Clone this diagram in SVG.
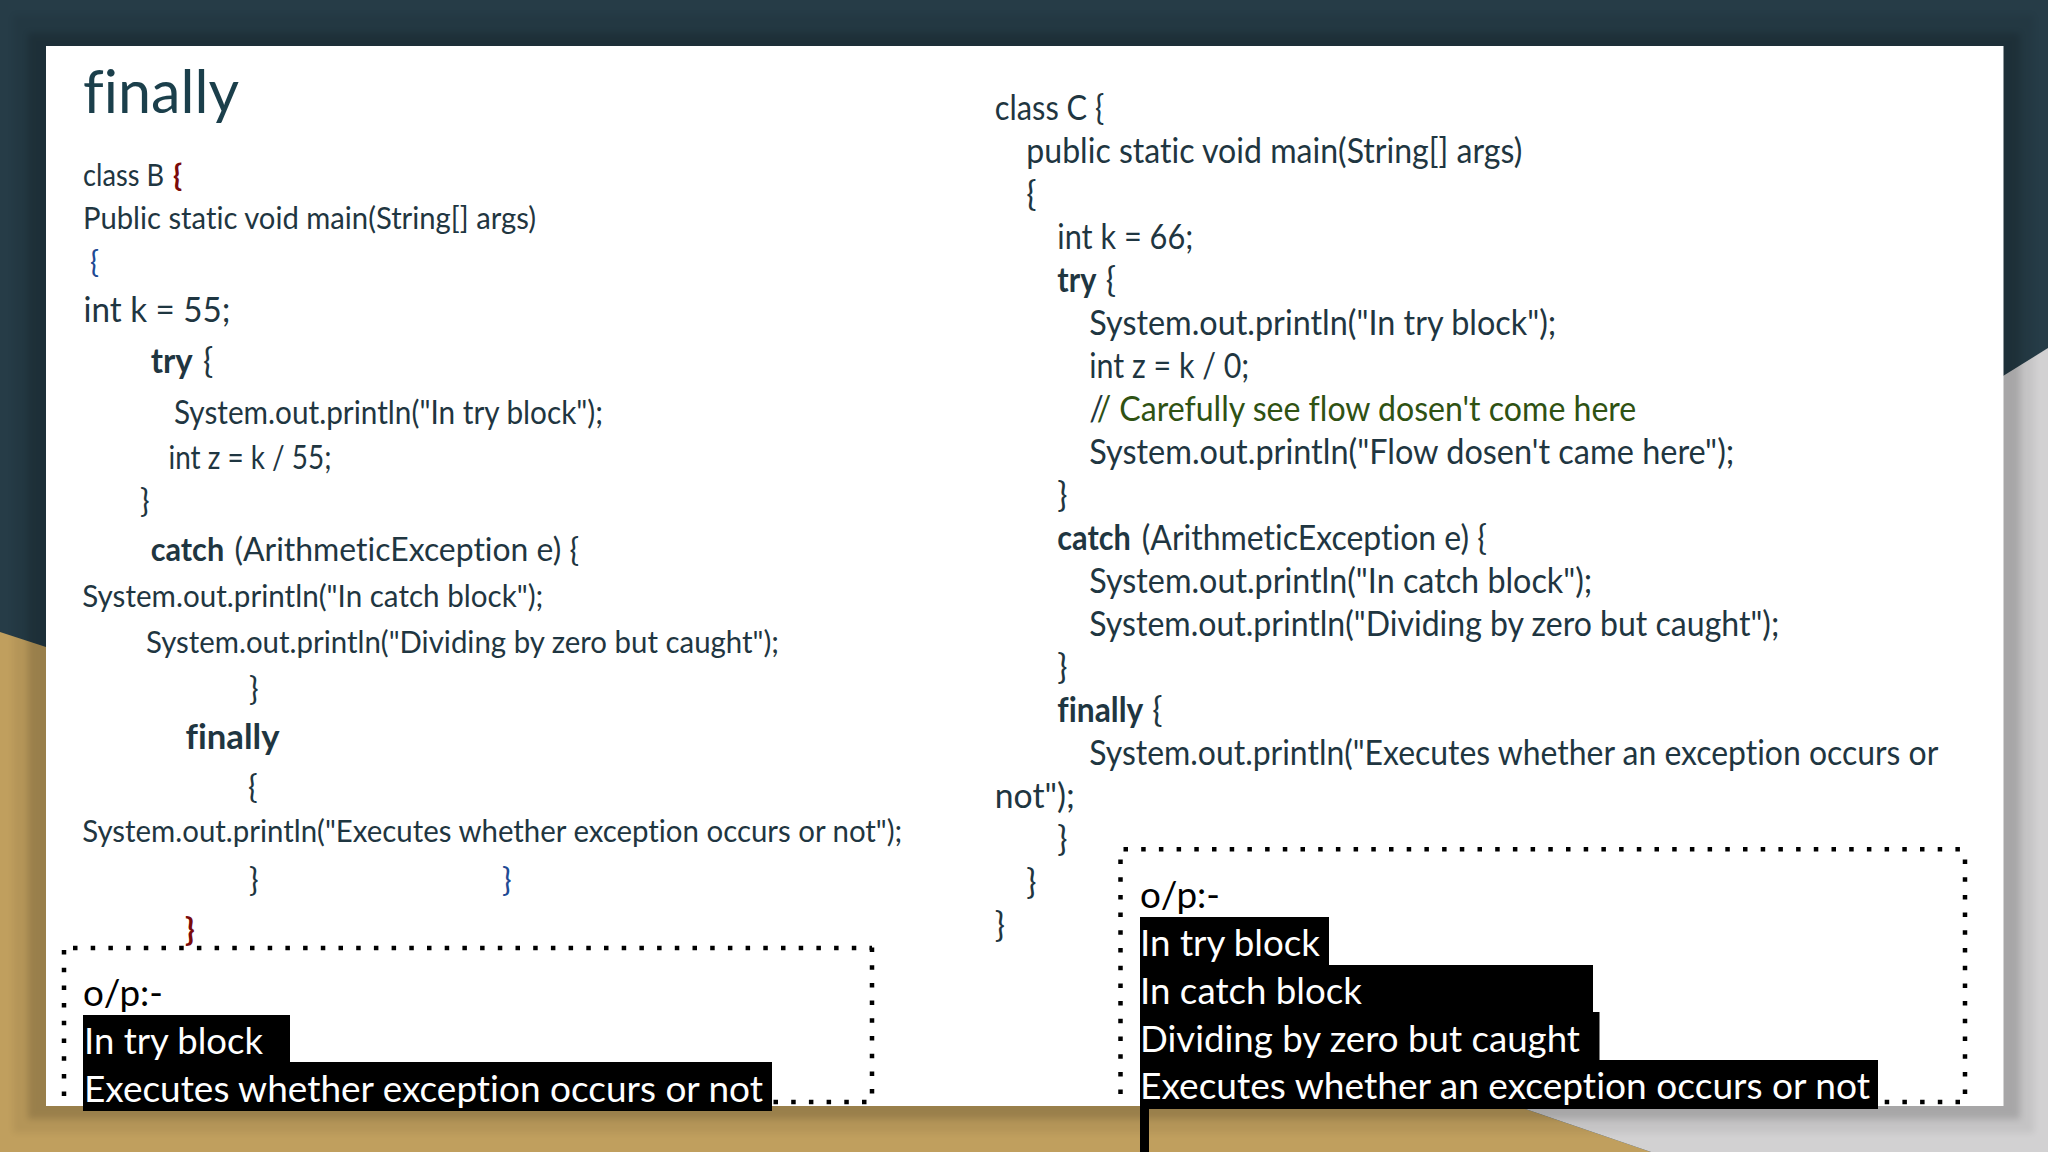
<svg xmlns="http://www.w3.org/2000/svg" width="2048" height="1152" viewBox="0 0 2048 1152">
<defs><filter id="soft" x="-5%" y="-5%" width="110%" height="110%"><feGaussianBlur stdDeviation="3"/></filter></defs>
<style>
text{font-family:"Lato","Carlito","Noto Sans",sans-serif;fill:#1f3641;white-space:pre;font-variant-ligatures:none}
.s{font-size:30px}.m{font-size:32px}.r{font-size:34px}.l{font-size:34px}
.b{font-weight:700}
.out{font-size:37px;fill:#000}
.inv{font-size:37px;fill:#fff}
.red{fill:#7b0a0a;font-weight:700}
.blue{fill:#1f4a94}
.green{fill:#2f5213}
.dot{fill:none;stroke:#000;stroke-width:4.5;stroke-dasharray:4.5 13.2}
</style>
<g id="background">
<rect width="2048" height="1152" fill="#263c47"/>
<polygon points="0,632 46,647 1517,1106 1651,1152 0,1152" fill="#c09f5e"/>
<polygon points="2048,348 1900,440 1500,1100 1517,1106 1651,1152 2048,1152" fill="#d2d1d2"/>
<rect x="13" y="15" width="2021" height="1118" fill="#000" opacity=".06" filter="url(#soft)"/>
<rect x="28" y="33" width="1992" height="1086" fill="#000" opacity=".14" filter="url(#soft)"/>
<rect x="46" y="46" width="1957.5" height="1060" fill="#fff"/>
</g>
<g id="title">
<text x="83" y="113" font-size="60" style="fill:#1b3f4b" textLength="156" lengthAdjust="spacingAndGlyphs">finally</text>
</g>
<g id="class-b" transform="translate(-1 1)">
<text class="s" x="84" y="185" textLength="81" lengthAdjust="spacingAndGlyphs">class B</text>
<text class="s red" x="174" y="185">{</text>
<text class="s" x="84" y="228" textLength="453" lengthAdjust="spacingAndGlyphs">Public static void main(String[] args)</text>
<text class="s blue" x="91" y="272">{</text>
<text class="l" x="84.5" y="320.7" textLength="147" lengthAdjust="spacingAndGlyphs">int k = 55;</text>
<text class="l b" x="151.7" y="371.7" textLength="42" lengthAdjust="spacingAndGlyphs">try</text>
<text class="l" x="204" y="371.7">{</text>
<text class="m" x="175" y="422.7" textLength="429" lengthAdjust="spacingAndGlyphs">System.out.println("In try block");</text>
<text class="m" x="169.5" y="468" textLength="163" lengthAdjust="spacingAndGlyphs">int z = k / 55;</text>
<text class="m" x="141" y="511">}</text>
<text class="m b" x="151.7" y="560" textLength="73.5" lengthAdjust="spacingAndGlyphs">catch</text>
<text class="m" x="235.5" y="560" textLength="344.5" lengthAdjust="spacingAndGlyphs">(ArithmeticException e) {</text>
<text class="s" x="83.3" y="606" textLength="461" lengthAdjust="spacingAndGlyphs">System.out.println("In catch block");</text>
<text class="s" x="147" y="652" textLength="633" lengthAdjust="spacingAndGlyphs">System.out.println("Dividing by zero but caught");</text>
<text class="m" x="250" y="699">}</text>
<text class="l b" x="186.5" y="748" textLength="94" lengthAdjust="spacingAndGlyphs">finally</text>
<text class="m" x="249" y="797">{</text>
<text class="s" x="83.3" y="841" textLength="820" lengthAdjust="spacingAndGlyphs">System.out.println("Executes whether exception occurs or not");</text>
<text class="m" x="250" y="890">}</text>
<text class="m blue" x="503" y="890">}</text>
<text class="m red" x="186" y="940">}</text>
</g>
<g id="class-c" transform="translate(-0.7 1.6)">
<text class="r" x="995.5" y="118.3" textLength="109.5" lengthAdjust="spacingAndGlyphs">class C {</text>
<text class="r" x="1027" y="161.3" textLength="496" lengthAdjust="spacingAndGlyphs">public static void main(String[] args)</text>
<text class="r" x="1027" y="204.3">{</text>
<text class="r" x="1058" y="247.5" textLength="136" lengthAdjust="spacingAndGlyphs">int k = 66;</text>
<text class="r b" x="1058" y="290.3" textLength="39" lengthAdjust="spacingAndGlyphs">try</text>
<text class="r" x="1106.5" y="290.3">{</text>
<text class="r" x="1090" y="333.3" textLength="467" lengthAdjust="spacingAndGlyphs">System.out.println("In try block");</text>
<text class="r" x="1090" y="376.5" textLength="160" lengthAdjust="spacingAndGlyphs">int z = k / 0;</text>
<text class="r" x="1090" y="419.3" textLength="547" lengthAdjust="spacingAndGlyphs">/<tspan class="green">/ Carefully see flow dosen't come here</tspan></text>
<text class="r" x="1090" y="462.5" textLength="645" lengthAdjust="spacingAndGlyphs">System.out.println("Flow dosen't came here");</text>
<text class="r" x="1058" y="505.3">}</text>
<text class="r b" x="1058" y="548.3" textLength="73.5" lengthAdjust="spacingAndGlyphs">catch</text>
<text class="r" x="1142.5" y="548.3" textLength="345" lengthAdjust="spacingAndGlyphs">(ArithmeticException e) {</text>
<text class="r" x="1090" y="591.5" textLength="503" lengthAdjust="spacingAndGlyphs">System.out.println("In catch block");</text>
<text class="r" x="1090" y="634.3" textLength="690" lengthAdjust="spacingAndGlyphs">System.out.println("Dividing by zero but caught");</text>
<text class="r" x="1058" y="677.3">}</text>
<text class="r b" x="1058" y="720.3" textLength="86" lengthAdjust="spacingAndGlyphs">finally</text>
<text class="r" x="1153" y="720.3">{</text>
<text class="r" x="1090" y="763.3" textLength="849" lengthAdjust="spacingAndGlyphs">System.out.println("Executes whether an exception occurs or</text>
<text class="r" x="995.5" y="806.5" textLength="80" lengthAdjust="spacingAndGlyphs">not");</text>
<text class="r" x="1058" y="849.5">}</text>
<text class="r" x="1027" y="892.5">}</text>
<text class="r" x="995.5" y="935.5">}</text>
</g>
<g id="output-b">
<path class="dot" d="M73 948H872"/>
<path class="dot" d="M872 947.5V1102"/>
<path class="dot" d="M64 950V1104"/>
<path class="dot" d="M866.5 1102H772"/>
<path d="M83 1015H290V1062H772V1111H83Z" fill="#000"/>
<text class="out" x="83" y="1006" textLength="80" lengthAdjust="spacingAndGlyphs">o/p:-</text>
<text class="inv" x="84" y="1054" textLength="179" lengthAdjust="spacingAndGlyphs">In try block</text>
<text class="inv" x="84" y="1101.7" textLength="679" lengthAdjust="spacingAndGlyphs">Executes whether exception occurs or not</text>
</g>
<g id="output-c">
<path class="dot" d="M1123.5 849.3H1965"/>
<path class="dot" d="M1965 859.5V1102"/>
<path class="dot" d="M1120.5 859.5V1104"/>
<path class="dot" d="M1960 1102H1878"/>
<path d="M1140 917H1329V965H1593V1012H1599.5V1060H1878V1109H1149V1152H1140Z" fill="#000"/>
<text class="out" x="1140" y="908" textLength="80" lengthAdjust="spacingAndGlyphs">o/p:-</text>
<text class="inv" x="1140" y="956" textLength="180" lengthAdjust="spacingAndGlyphs">In try block</text>
<text class="inv" x="1140" y="1003.7" textLength="222" lengthAdjust="spacingAndGlyphs">In catch block</text>
<text class="inv" x="1140" y="1051.7" textLength="440" lengthAdjust="spacingAndGlyphs">Dividing by zero but caught</text>
<text class="inv" x="1140" y="1099" textLength="730" lengthAdjust="spacingAndGlyphs">Executes whether an exception occurs or not</text>
</g>
</svg>
